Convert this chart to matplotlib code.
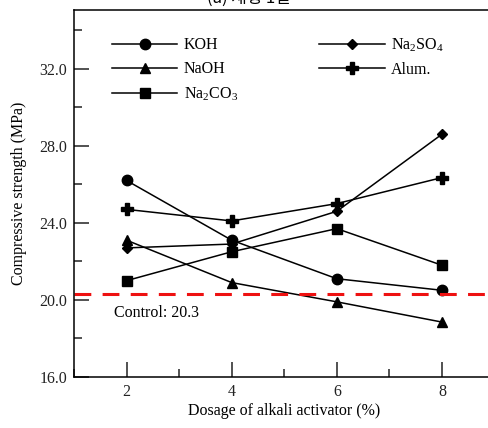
import matplotlib
matplotlib.use("Agg")
import matplotlib.pyplot as plt
from matplotlib.ticker import MultipleLocator, FormatStrFormatter

plt.rcParams['font.family'] = ['Liberation Serif', 'Noto Sans CJK KR']
plt.rcParams['mathtext.default'] = 'regular'

dosage = [2, 4, 6, 8]
koh = [26.2, 23.1, 21.1, 20.5]
naoh = [23.1, 20.9, 19.9, 18.85]
na2co3 = [21.0, 22.5, 23.7, 21.8]
na2so4 = [22.7, 22.9, 24.6, 28.6]
alum = [24.7, 24.1, 25.0, 26.35]
control = 20.3

fig = plt.figure(figsize=(4.89, 4.28), dpi=100)
# axes runs slightly past the right edge, as in the cropped original
ax = fig.add_axes([0.1513, 0.1192, 0.86, 0.8575])

kw = dict(color='black', lw=1.1)
ax.plot(dosage, koh, marker='o', ms=7.5, label='KOH', **kw)
ax.plot(dosage, naoh, marker='^', ms=7.5, label='NaOH', **kw)
ax.plot(dosage, na2co3, marker='s', ms=7, label='Na$_2$CO$_3$', **kw)
ax.plot(dosage, na2so4, marker='D', ms=5.5, label='Na$_2$SO$_4$', **kw)
ax.plot(dosage, alum, marker='P', ms=8.5, label='Alum.', **kw)

ax.axhline(control, color='#ee1111', lw=2.2, ls=(0, (5.5, 3.7)))
ax.text(1.77, control - 1.0, 'Control: %.1f' % control, fontsize=11.5, va='center')

ax.set_xlim(1, 9)
ax.set_ylim(16, 35.05)
ax.xaxis.set_major_locator(MultipleLocator(2))
ax.xaxis.set_minor_locator(MultipleLocator(1))
ax.yaxis.set_major_locator(MultipleLocator(4))
ax.yaxis.set_minor_locator(MultipleLocator(2))
ax.yaxis.set_major_formatter(FormatStrFormatter('%.1f'))
ax.tick_params(which='both', direction='in', width=1.1, labelsize=11.5, colors='#222222')
ax.tick_params(which='major', length=11, pad=5)
ax.tick_params(which='minor', length=5.5)
ax.set_xticks([2, 4, 6, 8])
for side in ['left', 'bottom', 'top']:
    ax.spines[side].set_linewidth(1.1)
ax.spines['right'].set_visible(False)

ax.set_xlabel('Dosage of alkali activator (%)', fontsize=11.5, labelpad=2)
ax.set_ylabel('Compressive strength (MPa)', fontsize=11.5, labelpad=9)

ax.legend(ncol=2, loc='upper left', bbox_to_anchor=(0.09, 0.928), frameon=False,
          fontsize=11.5, handlelength=4.1, handletextpad=0.4, columnspacing=5.1,
          labelspacing=0.5, borderpad=0, borderaxespad=0)

fig.text(0.508, 1.003, '(a) 재령 1일', fontsize=12, ha='center', va='center',
         family=['Noto Sans CJK KR'])

fig.savefig('out.png', dpi=100)
